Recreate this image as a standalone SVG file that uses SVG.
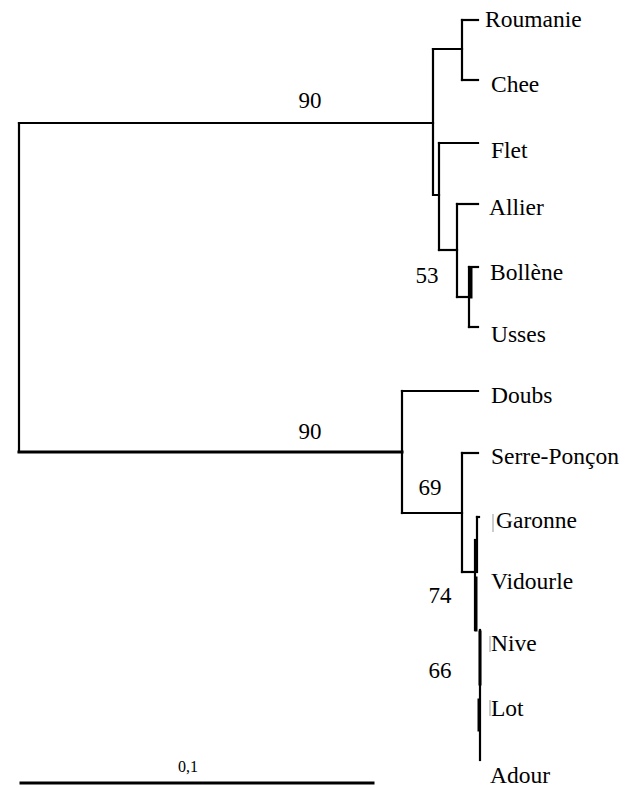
<svg xmlns="http://www.w3.org/2000/svg" width="630" height="788" viewBox="0 0 630 788">
<style>
.br{stroke:#000;stroke-width:2.2;fill:none;stroke-linecap:square}
.thick{stroke-width:3}
.thin{stroke:#999;stroke-width:1}
.lbl{font-family:"Liberation Serif","Times New Roman",serif;font-size:23.5px;fill:#000}
.bs{font-family:"Liberation Serif","Times New Roman",serif;font-size:23px;fill:#000;text-anchor:middle}
.sc{font-family:"Liberation Serif","Times New Roman",serif;font-size:16px;fill:#000;text-anchor:middle}
</style>
<rect width="630" height="788" fill="#fff"/>
<g id="connectors">
<path class="br" d="M19,123 V452" stroke-width="2.6"/>
<path class="br" d="M19,123 H433"/>
<path class="br thick" d="M19,452 H402"/>
<path class="br" d="M433,49 V195 H439"/>
<path class="br" d="M433,49 H462"/>
<path class="br" d="M462,20 V80"/>
<path class="br" d="M462,20 H478"/>
<path class="br" d="M462,80 H478"/>
<path class="br" d="M439,143 V250"/>
<path class="br" d="M439,143 H478"/>
<path class="br" d="M439,250 H457"/>
<path class="br" d="M457,204 V297"/>
<path class="br" d="M457,204 H478"/>
<path class="br" d="M457,297 H469"/>
<path class="br" d="M469,267 V327"/>
<path class="br thick" d="M471,268 V297"/>
<path class="br" d="M469,267 H478"/>
<path class="br" d="M469,327 H478"/>
<path class="br" d="M402,391 V513"/>
<path class="br" d="M402,391 H478"/>
<path class="br" d="M402,513 H462"/>
<path class="br" d="M462,453 V572"/>
<path class="br" d="M462,453 H478"/>
<path class="br" d="M462,572 H475"/>
<path class="br" d="M477,517 V572"/>
<path class="br" d="M477,517 H479"/>
<path class="br" d="M475,540 V630"/>
<path class="br thick" d="M476,578 V630"/>
<path class="br" d="M480,630 V760"/>
<path class="br thick" d="M480,632 V684"/>
<path class="br thick" d="M479,700 V730"/>
<path class="thin" d="M493,514 V532"/>
<path class="thin" d="M490,636 V652"/>
<path class="thin" d="M490,700 V716"/>
<path class="br thick" d="M21,783 H373"/>
</g>
<g id="labels-bootstrap">
<text class="bs" x="310" y="108">90</text>
<text class="bs" x="427" y="283">53</text>
<text class="bs" x="310" y="439">90</text>
<text class="bs" x="430" y="495">69</text>
<text class="bs" x="440" y="603">74</text>
<text class="bs" x="440" y="678">66</text>
<text class="sc" x="188" y="772">0,1</text>
</g>
<g id="n-roumanie"><text class="lbl" x="485" y="27">Roumanie</text></g>
<g id="n-chee"><text class="lbl" x="491" y="92">Chee</text></g>
<g id="n-flet"><text class="lbl" x="491" y="158">Flet</text></g>
<g id="n-allier"><text class="lbl" x="489" y="215">Allier</text></g>
<g id="n-bollene"><text class="lbl" x="490" y="280">Bollène</text></g>
<g id="n-usses"><text class="lbl" x="491" y="342">Usses</text></g>
<g id="n-doubs"><text class="lbl" x="491" y="403">Doubs</text></g>
<g id="n-serre"><text class="lbl" x="491" y="464">Serre-Ponçon</text></g>
<g id="n-garonne"><text class="lbl" x="496" y="528">Garonne</text></g>
<g id="n-vidourle"><text class="lbl" x="491" y="589">Vidourle</text></g>
<g id="n-nive"><text class="lbl" x="491" y="651">Nive</text></g>
<g id="n-lot"><text class="lbl" x="491" y="716">Lot</text></g>
<g id="n-adour"><text class="lbl" x="490" y="783">Adour</text></g>
</svg>
